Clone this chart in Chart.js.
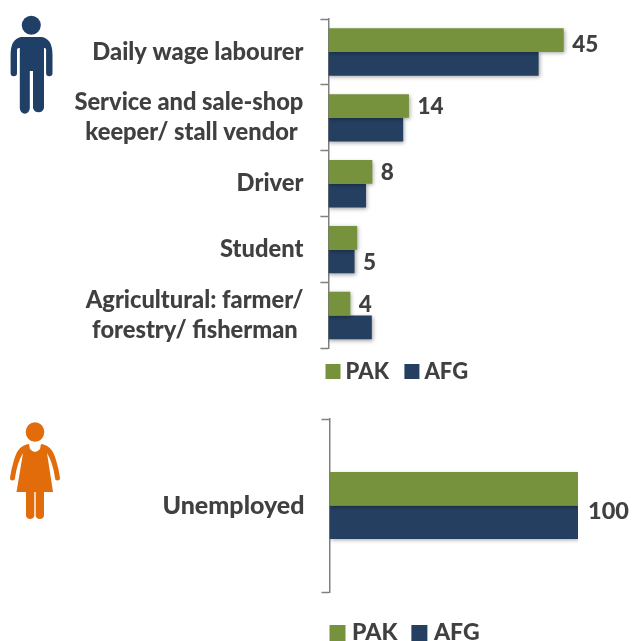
<!DOCTYPE html>
<html><head><meta charset="utf-8">
<script src="https://cdn.jsdelivr.net/npm/chart.js@4"></script>
<style>
html,body{margin:0;padding:0;background:#fff;overflow:hidden;width:632px;height:641px}
canvas,svg{position:absolute;left:0}
</style></head><body>
<svg style="top:0" width="632" height="641" viewBox="0 0 632 641">
  <circle cx="31.3" cy="25.3" r="9.5" fill="#1f3f66"/>
  <path fill="#1f3f66" d="M21 37H42Q52.500 39 52.500 55V73a3.200 3.200 0 0 1-6.400 0V49.500Q46 47.500 44 48V108a5.700 5.700 0 0 1-11 0V71H29.800V108a5 5.700 0 0 1-10 0V48Q17 47.500 17 50V73a3.200 3.200 0 0 1-6.400 0V55Q10.500 39 21 37Z"/>
  <ellipse cx="35" cy="432" rx="9.300" ry="9.800" fill="#e36c0a"/>
  <path fill="#e36c0a" d="M29 444L30 449Q35 455 40 449L41 444Q52 445 56 460Q59 470 60 478a2.500 2.500 0 0 1-5 0Q53 463 47 453L53 492H44V516a4.400 4.400 0 0 1-8.300 0V492H34.300V516a4.400 4.400 0 0 1-8.300 0V492H16.500L23 453Q17 463 15 478a2.500 2.500 0 0 1-5 0Q11 470 14 460Q18 445 29 444Z"/>
</svg>
<canvas id="top" width="632" height="402" style="top:0"></canvas>
<canvas id="bottom" width="632" height="244" style="top:400px"></canvas>
<script>
const seriesNames = ['PAK', 'AFG'];
const maleCategories = ['Daily wage labourer', ['Service and sale-shop', 'keeper/ stall vendor '], 'Driver', 'Student', ['Agricultural: farmer/', 'forestry/ fisherman ']];
const malePak = [45, 15.4, 8.4, 5.5, 4.2];
const maleAfg = [40.2, 14.3, 7.2, 5, 8.3];
const malePakLabels = ['45', '14', '8', '', '4'];
const maleAfgLabels = ['', '', '', '5', ''];
const femaleCategories = ['Unemployed'];
const femalePak = [100];
const femaleAfg = [100];
const femalePakLabels = ['100'];
const femaleAfgLabels = [''];

const GREEN = '#76923c', NAVY = '#243f60', TEXT = '#404040', AXIS = '#808080';
const FONT = 'Lato';
const WEIGHT = '900';

const barShadow = {
  id: 'barShadow',
  beforeDatasetsDraw(c) { const x = c.ctx; x.save(); x.shadowColor = 'rgba(0,0,0,0.35)'; x.shadowBlur = 4; x.shadowOffsetX = 1; x.shadowOffsetY = 1.5; },
  afterDatasetsDraw(c) { c.ctx.restore(); }
};
const valueLabels = {
  id: 'valueLabels',
  afterDatasetsDraw(c, args, o) {
    const x = c.ctx; x.save();
    x.font = `${WEIGHT} ${o.size}px ${FONT}`; x.fillStyle = TEXT; x.textAlign = 'left'; x.textBaseline = 'middle';
    c.data.datasets.forEach((d, i) => {
      c.getDatasetMeta(i).data.forEach((el, j) => {
        const t = o.texts[i][j];
        if (t) x.fillText(t, el.x + o.dx, el.y + o.dy[i][j]);
      });
    });
    x.restore();
  }
};
const placeLegend = {
  id: 'placeLegend',
  afterLayout(c, args, o) {
    const l = c.legend; const w = l.right - l.left;
    l.left = o.left; l.right = o.left + w; l.top = o.top; l.bottom = o.top + l.height;
  }
};

function build(id, cats, pak, afg, texts, cfg) {
  return new Chart(document.getElementById(id), {
    type: 'bar',
    data: { labels: cats, datasets: [
      { label: seriesNames[0], data: pak, backgroundColor: GREEN },
      { label: seriesNames[1], data: afg, backgroundColor: NAVY }
    ]},
    plugins: [barShadow, valueLabels, placeLegend],
    options: {
      indexAxis: 'y', responsive: false, animation: false,
      categoryPercentage: cfg.cat, barPercentage: 1,
      layout: { padding: { top: 19, right: cfg.right, bottom: 0, left: 0 } },
      scales: {
        x: { display: false, min: 0, max: cfg.max },
        y: {
          afterFit(s) { s.width = cfg.axisX; s.paddingTop = 0; s.paddingBottom = 0; },
          border: { color: AXIS, width: 1.5 },
          grid: { offset: true, drawOnChartArea: false, drawTicks: true, tickLength: 8, color: AXIS, tickWidth: 1.500 },
          ticks: { color: TEXT, padding: 17, autoSkip: false, font: { family: FONT, weight: WEIGHT, size: cfg.font, lineHeight: 30 / cfg.font } }
        }
      },
      plugins: {
        tooltip: { enabled: false },
        legend: {
          position: 'bottom', align: 'start',
          labels: { usePointStyle: true, pointStyle: 'rect', boxWidth: cfg.legendBoxW, boxHeight: cfg.legendBoxH, padding: cfg.legendGap, color: TEXT, font: { family: FONT, weight: WEIGHT, size: cfg.legendFont } }
        },
        placeLegend: { left: cfg.legendLeft, top: cfg.legendTop },
        valueLabels: { texts, size: cfg.valueSize, dx: cfg.dx, dy: cfg.dy }
      }
    }
  });
}

build('top', maleCategories, malePak, maleAfg, [malePakLabels, maleAfgLabels], {
  cat: 0.72, right: 16, max: 55, axisX: 328.4, font: 23.7, legendLeft: 310, legendTop: 339, legendBoxW: 3, legendBoxH: 15, legendGap: 21.5, legendFont: 22, valueSize: 22.5, dx: 8.5,
  dy: [[5, 1, 1, 1, 1], [1, 1, 1, 1, 1]]
});
build('bottom', femaleCategories, femalePak, femaleAfg, [femalePakLabels, femaleAfgLabels], {
  cat: 0.387, right: 54, max: 100, axisX: 329.5, font: 25, legendLeft: 315.5, legendTop: 202.5, legendBoxW: 6, legendBoxH: 16, legendGap: 19, legendFont: 23, valueSize: 23.5, dx: 10,
  dy: [[23], [0]]
});
</script>
</body></html>
